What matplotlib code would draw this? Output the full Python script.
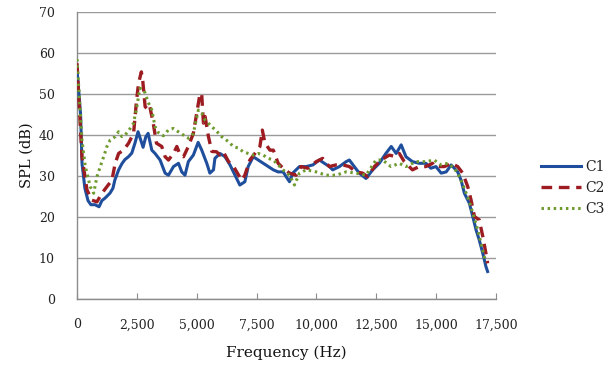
import matplotlib
matplotlib.use("Agg")
import matplotlib.pyplot as plt
from matplotlib.ticker import FuncFormatter

# Frequency response of three configurations (SPL in dB vs frequency in Hz)
c1_freq = [0, 150, 210, 330, 460, 580, 750, 920, 1040, 1170, 1375, 1500, 1580,
           1740, 1875, 2000, 2150, 2290, 2420, 2550, 2650, 2760, 2870, 2970,
           3125, 3260, 3470, 3680, 3820, 4030, 4240, 4375, 4510, 4650, 4860,
           5060, 5210, 5420, 5550, 5700, 5760, 5970, 6180, 6390, 6600, 6800,
           7010, 7150, 7360, 7570, 7780, 7990, 8200, 8400, 8610, 8740, 8875,
           9010, 9290, 9570, 9850, 10125, 10330, 10540, 10680, 10960, 11240,
           11375, 11580, 11790, 12070, 12350, 12625, 12900, 13125, 13330,
           13540, 13740, 14010, 14290, 14570, 14780, 14990, 15210, 15420,
           15625, 15760, 15900, 16040, 16180, 16390, 16530, 16670, 16800,
           16950, 17080, 17150]
c1_spl = [56, 45, 33, 27, 24, 23, 23, 22.5, 24, 24.6, 25.8, 27, 29,
          31.5, 33, 34, 34.7, 35.6, 38, 40.8, 39, 37, 39.5, 40.4,
          36.3, 35.5, 33.9, 30.7, 30.2, 32.3, 33.1, 31, 30.2, 33.5, 35.1,
          38.2, 36.3, 33.1, 30.7, 31.5, 34.3, 35.5, 34.7, 32.7, 30.2, 27.8,
          28.6, 32.3, 34.7, 33.9, 33.1, 32.3, 31.5, 31, 31, 29.8, 28.6,
          30.7, 32.3, 32.3, 32.7, 33.9, 33.1, 32.3, 31.5, 32.3, 33.5,
          33.9, 32.3, 30.7, 29.4, 31.5, 33.1, 35.5, 37.2, 35.5,
          37.6, 34.7, 33.5, 33.1, 33.1, 31.9, 32.3, 30.7, 31,
          32.7, 31.9, 31, 29, 25.8, 23.3, 20.1, 16.8, 14.4,
          11.1, 7.9, 6.7]

c2_freq = [0, 208, 417, 625, 833, 1042, 1250, 1458, 1596, 1737, 1946, 2154,
           2363, 2488, 2571, 2688, 2750, 2846, 2988, 3042, 3180, 3320, 3540,
           3680, 3820, 4030, 4170, 4310, 4450, 4650, 4860, 5000, 5140, 5210,
           5280, 5350, 5490, 5630, 5830, 5970, 6110, 6330, 6540, 6750, 6880,
           7010, 7220, 7430, 7640, 7740, 7850, 8060, 8200, 8400, 8610, 8875,
           9150, 9360, 9640, 9990, 10260, 10540, 10820, 11100, 11375, 11650,
           11930, 12140, 12420, 12700, 13040, 13330, 13460, 13670, 14010,
           14290, 14570, 14850, 14930, 15350, 15625, 15900, 16110, 16320,
           16460, 16600, 16800, 16950, 17080, 17150]
c2_spl = [57.5, 34.7, 26.6, 24.1, 23.7, 25.8, 27.4, 29, 33.1, 35.5, 36.3, 38,
          40.4, 48.5, 52.6, 55.4, 53, 46.9, 46.1, 46.9, 43, 38, 37.2,
          34.7, 33.9, 35.5, 37.2, 35.1, 34.7, 37.2, 40.4, 45.3, 50.2, 49.8,
          42.9, 44.5, 39.6, 36, 35.9, 35.1, 35.9, 33.5, 32.3, 30.2, 29,
          30.2, 33.9, 35.5, 37.2, 41.2, 38, 36.3, 36.3, 33.1, 31.9, 30.7,
          30.2, 32.3, 31.9, 33.5, 34.3, 32.3, 32.7, 32.7, 32.3, 31,
          30.7, 29.8, 32.3, 33.9, 35.1, 34.7, 35.5, 33.5, 31.5,
          32.3, 32.3, 33.1, 32.3, 32.3, 33.1, 32.3, 30.7, 27.4,
          24.1, 20.1, 19.3, 15.2, 11.1, 8.7]

c3_freq = [0, 208, 346, 554, 696, 833, 971, 1113, 1250, 1388, 1596, 1737,
           1875, 2013, 2221, 2363, 2500, 2625, 2779, 2846, 2979, 3125, 3263,
           3396, 3604, 3813, 4021, 4229, 4438, 4654, 4863, 4917, 5071, 5208,
           5346, 5563, 5821, 6042, 6321, 6529, 6738, 6946, 7154, 7363, 7571,
           7779, 7988, 8196, 8404, 8604, 8875, 9083, 9292, 9571, 9988, 10404,
           10821, 11238, 11654, 12071, 12488, 12763, 13113, 13458, 13738,
           14154, 14571, 14917, 15208, 15488, 15763, 15971, 16179, 16388,
           16596, 16738, 16875, 17013, 17080]
c3_spl = [58.5, 38.8, 32.3, 27.4, 25.8, 29.8, 32.3, 34.7, 37.2, 38.8, 39.6, 40.8,
          39.6, 40, 41.6, 42.9, 46.9, 51.4, 51, 50.2, 47.9, 46.1, 42,
          40.6, 39.8, 41.2, 41.6, 40.8, 40, 39.2, 40.4, 42, 46.1, 45.3,
          43.7, 42.4, 41, 39.6, 38.4, 37.2, 36.8, 35.9, 35.5, 35.1, 35.5,
          35.1, 34.3, 33.9, 32.7, 31.5, 30.2, 27.8, 30.7, 31.5, 31, 30.2,
          30.2, 31, 30.7, 30.2, 33.9, 33.9, 32.3, 33.1, 32.3,
          33.5, 33.5, 33.9, 32.7, 33.1, 31.9, 29.8, 27, 23.7,
          19.7, 16.8, 13.6, 10.3, 9]

series_names = ["C1", "C2", "C3"]
x_ticks = [0, 2500, 5000, 7500, 10000, 12500, 15000, 17500]
y_ticks = [0, 10, 20, 30, 40, 50, 60, 70]

serif = ["DejaVu Serif"]
axis_gray = "#8c8c8c"

fig = plt.figure(figsize=(6.13, 3.65), dpi=100)
ax = fig.add_axes([77 / 613, 1 - 299 / 365, (496 - 77) / 613, (299 - 12) / 365])

ax.plot(c1_freq, c1_spl, color="#1f4f9c", lw=2.2, solid_joinstyle="round",
        label=series_names[0], zorder=3)
ax.plot(c2_freq, c2_spl, color="#9c1c22", lw=2.4, linestyle=(0, (3.2, 2.0)),
        label=series_names[1], zorder=4)
ax.plot(c3_freq, c3_spl, color="#6e9a2e", lw=2.2, linestyle=(0, (0.8, 1.2)),
        label=series_names[2], zorder=5)

ax.set_xlim(0, 17500)
ax.set_ylim(0, 70)
ax.set_xticks(x_ticks)
ax.set_yticks(y_ticks)
ax.xaxis.set_major_formatter(FuncFormatter(lambda v, p: f"{int(v):,}"))

ax.grid(axis="y", color="#9a9a9a", lw=1.0, zorder=0)
ax.grid(axis="x", visible=False)
for side in ("top", "right"):
    ax.spines[side].set_visible(False)
for side in ("left", "bottom"):
    ax.spines[side].set_color(axis_gray)
    ax.spines[side].set_linewidth(1.0)

ax.tick_params(axis="x", direction="in", length=4, color=axis_gray, pad=14,
               labelsize=9, labelcolor="#222222")
ax.tick_params(axis="y", length=0, pad=16, labelsize=9, labelcolor="#222222")
for lab in ax.get_xticklabels() + ax.get_yticklabels():
    lab.set_family(serif)

ax.set_xlabel("Frequency (Hz)", family=serif, fontsize=11, color="#111111",
              labelpad=10)
ax.set_ylabel("SPL (dB)", family=serif, fontsize=10.5, color="#111111",
              labelpad=4)

leg = fig.legend(loc="center left", bbox_to_anchor=(541 / 613, 1 - 188 / 365),
                 frameon=False, handlelength=2.9, handletextpad=0.25,
                 labelspacing=0.5, borderpad=0, borderaxespad=0,
                 prop={"family": serif, "size": 10})
for t in leg.get_texts():
    t.set_color("#222222")

fig.savefig("out.png", dpi=100)
